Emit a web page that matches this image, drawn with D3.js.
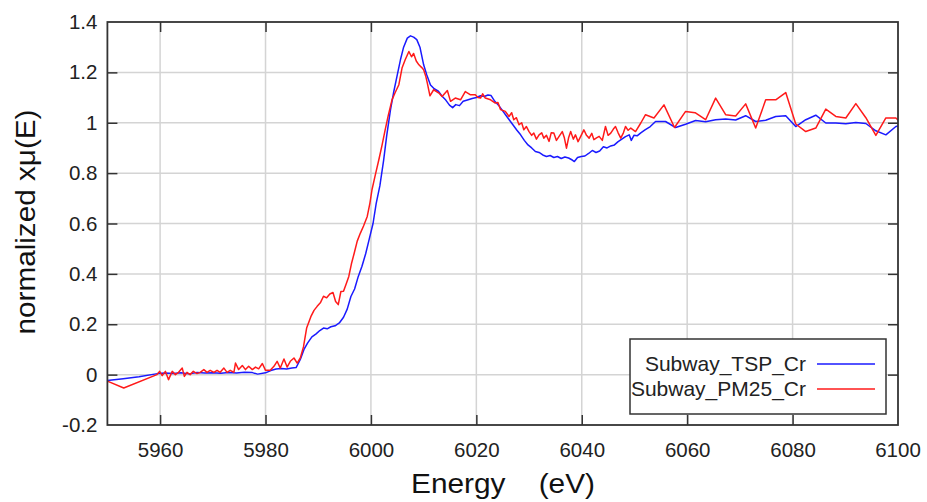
<!DOCTYPE html>
<html>
<head>
<meta charset="utf-8">
<script src="https://cdn.jsdelivr.net/npm/d3@7"></script>
<style>
  body { margin: 0; background: #fff; }
  svg { font-family: "Liberation Sans", Arial, sans-serif; }
</style>
</head>
<body>
<svg id="chart" width="927" height="502"></svg>
<script>
// Subway_TSP_Cr (blue)
var tspEnergy = [5950, 5953, 5956, 5959.5, 5961, 5962.5, 5964, 5965.5, 5967, 5968.5, 5970, 5971.5, 5973, 5974.5, 5976, 5977.5, 5978.5, 5980, 5981, 5982, 5983, 5984, 5985, 5985.8,
  5986.6, 5987.3, 5988, 5988.8, 5989.6, 5990.3, 5991, 5991.7, 5992.4, 5993.2, 5994, 5994.8, 5995.5, 5996.2, 5996.9, 5997.6, 5998.3, 5999, 5999.7, 6000.4, 6001, 6001.7,
  6002.4, 6003, 6003.7, 6004.3, 6005, 6005.6, 6006.2, 6006.9, 6007.5, 6008.1, 6008.7, 6009.3, 6010, 6010.6, 6011.3, 6012, 6012.8, 6013.5, 6014.2, 6014.9, 6015.5, 6016.1,
  6016.8, 6017.5, 6018.3, 6019.2, 6020, 6020.8, 6021.5, 6022.2, 6022.8, 6023.5, 6024.2, 6024.9, 6025.6, 6026.3, 6027, 6027.7, 6028.4, 6029.1, 6029.8, 6030.5, 6031.2,
  6031.9, 6032.6, 6033.3, 6034, 6034.7, 6035.4, 6036.1, 6036.8, 6037.5, 6038.2, 6038.6, 6039.2, 6039.9, 6040.6, 6041.3, 6042, 6042.7, 6043.4, 6044.1, 6044.8, 6045.5,
  6046.2, 6046.9, 6047.6, 6048.3, 6049, 6049.4, 6049.9, 6050.5, 6051.2, 6052, 6053, 6054, 6055.9, 6057.8, 6059.7, 6061.6, 6063.5, 6065.4, 6067.3, 6069.2, 6071.1, 6073,
  6074.9, 6076.8, 6078.7, 6080.6, 6082.5, 6084.4, 6086.3, 6088.2, 6090.1, 6092, 6093.9, 6095.8, 6097.7, 6099.6, 6100.5];
var tspMu = [-0.023, -0.016, -0.008, 0.004, 0.006, 0.004, 0.007, 0.003, 0.008, 0.006, 0.007, 0.005, 0.008, 0.006, 0.009, 0.008, 0.002, 0.007, 0.016, 0.022, 0.024, 0.022, 0.026, 0.028,
  0.06, 0.1, 0.126, 0.15, 0.162, 0.175, 0.185, 0.182, 0.19, 0.194, 0.205, 0.228, 0.26, 0.31, 0.34, 0.39, 0.43, 0.48, 0.54, 0.6, 0.68, 0.75,
  0.85, 0.95, 1.05, 1.12, 1.19, 1.25, 1.3, 1.336, 1.345, 1.34, 1.33, 1.3, 1.23, 1.19, 1.15, 1.135, 1.125, 1.105, 1.09, 1.07, 1.06, 1.072,
  1.068, 1.085, 1.09, 1.096, 1.1, 1.107, 1.104, 1.11, 1.108, 1.085, 1.07, 1.05, 1.03, 1.01, 0.99, 0.97, 0.952, 0.93, 0.912, 0.9, 0.886,
  0.882, 0.872, 0.866, 0.87, 0.862, 0.866, 0.858, 0.864, 0.86, 0.852, 0.846, 0.862, 0.866, 0.868, 0.878, 0.89, 0.882, 0.888, 0.905, 0.9, 0.908,
  0.912, 0.925, 0.935, 0.945, 0.952, 0.93, 0.95, 0.948, 0.96, 0.972, 0.985, 1.005, 1.005, 0.981, 0.994, 1.009, 1.004, 1.012, 1.015, 1.011, 1.028, 1.005,
  1.01, 1.025, 1.028, 0.985, 1.012, 1.03, 0.999, 0.999, 0.996, 1.001, 0.997, 0.968, 0.952, 0.985, 0.99];

// Subway_PM25_Cr (red)
var pm25Energy = [5950, 5953.1, 5959.4, 5959.9, 5960.4, 5961, 5961.6, 5962.3, 5962.9, 5963.5, 5964.2, 5964.6, 5965.1, 5965.7, 5966.3, 5967, 5967.6, 5968.3, 5968.9, 5969.5,
  5970.2, 5970.8, 5971.4, 5972.1, 5972.7, 5973.3, 5974, 5974.3, 5974.9, 5975.6, 5976.2, 5976.8, 5977.5, 5978.1, 5978.7, 5979.4, 5980, 5980.9, 5981.6, 5982.2,
  5982.8, 5983.5, 5984.1, 5984.7, 5985.4, 5986, 5986.6, 5987.2, 5987.8, 5988.6, 5989.2, 5989.8, 5990.4, 5991, 5991.6, 5992.2, 5992.8, 5993.3, 5993.8, 5994.3,
  5994.8, 5995.3, 5995.8, 5996.3, 5996.8, 5997.4, 5998, 5998.6, 5999.3, 5999.8, 6000.2, 6000.8, 6001.5, 6002.1, 6002.7, 6003.3, 6004, 6004.6, 6005.3, 6005.9,
  6006.5, 6007.2, 6007.7, 6008.1, 6008.6, 6009.1, 6009.6, 6010, 6010.4, 6010.7, 6011.2, 6011.9, 6012.9, 6013.5, 6014.5, 6015.1, 6016, 6017, 6017.9, 6018.9,
  6019.8, 6020.3, 6020.8, 6021.2, 6021.7, 6022.7, 6023.6, 6024.1, 6024.6, 6025.5, 6026.2, 6026.7, 6027.1, 6027.6, 6028.1, 6028.6, 6029, 6029.5, 6030, 6030.5,
  6030.9, 6031.4, 6031.9, 6032.4, 6032.8, 6033.3, 6033.8, 6034.2, 6034.7, 6035.2, 6035.7, 6036.3, 6036.7, 6037.1, 6037.5, 6037.9, 6038.4, 6038.8, 6039.3, 6039.8,
  6040.4, 6040.9, 6041.4, 6041.9, 6042.3, 6042.8, 6043.3, 6043.9, 6044.5, 6045, 6045.5, 6046, 6046.4, 6046.9, 6047.4, 6047.9, 6048.3, 6048.8, 6049.3, 6050.2,
  6051.2, 6052.1, 6053.7, 6055.6, 6057.6, 6059.7, 6061.5, 6063.5, 6065.4, 6067.3, 6069.2, 6071.1, 6073, 6074.9, 6076.8, 6078.7, 6080.6, 6082.5, 6084.4, 6086.3,
  6088.2, 6090.1, 6092, 6093.9, 6095.8, 6097.7, 6099.6, 6100.3];
var pm25Mu = [-0.026, -0.053, 0.0, 0.013, -0.004, 0.013, -0.02, 0.013, 0.0, 0.009, 0.026, -0.007, 0.009, 0.0, 0.013, 0.004, 0.009, 0.02, 0.009, 0.017,
  0.009, 0.017, 0.009, 0.026, 0.009, 0.017, 0.009, 0.046, 0.02, 0.036, 0.02, 0.033, 0.02, 0.03, 0.023, 0.044, 0.017, 0.017, 0.033, 0.053,
  0.026, 0.062, 0.03, 0.053, 0.066, 0.046, 0.066, 0.11, 0.185, 0.23, 0.255, 0.271, 0.285, 0.311, 0.305, 0.32, 0.326, 0.29, 0.278, 0.33,
  0.331, 0.36, 0.39, 0.44, 0.48, 0.53, 0.562, 0.59, 0.628, 0.68, 0.734, 0.79, 0.853, 0.91, 0.972, 1.03, 1.091, 1.12, 1.151, 1.217,
  1.25, 1.283, 1.262, 1.275, 1.245, 1.23, 1.22, 1.21, 1.185, 1.157, 1.107, 1.131, 1.118, 1.104, 1.128, 1.085, 1.098, 1.091, 1.124, 1.111,
  1.111, 1.1, 1.098, 1.115, 1.098, 1.091, 1.078, 1.08, 1.052, 1.045, 1.025, 1.04, 1.012, 1.02, 0.992, 1.0, 0.972, 0.985, 0.965, 0.95,
  0.959, 0.935, 0.952, 0.96, 0.939, 0.95, 0.926, 0.96, 0.959, 0.93, 0.946, 0.965, 0.94, 0.899, 0.94, 0.965, 0.935, 0.952, 0.925, 0.946,
  0.972, 0.95, 0.939, 0.958, 0.933, 0.94, 0.946, 0.93, 0.985, 0.95, 0.959, 0.975, 0.985, 0.96, 0.939, 0.96, 0.985, 0.97, 0.979, 0.965,
  0.999, 1.032, 1.019, 1.071, 0.981, 1.045, 1.04, 1.012, 1.098, 1.032, 1.027, 1.075, 0.979, 1.091, 1.091, 1.12, 0.995, 0.965, 0.979, 1.054,
  1.025, 1.019, 1.076, 1.02, 0.95, 1.019, 1.019, 1.005];

var xTicks = [5960, 5980, 6000, 6020, 6040, 6060, 6080, 6100];
var yTicks = [-0.2, 0, 0.2, 0.4, 0.6, 0.8, 1, 1.2, 1.4];
var seriesNames = ["Subway_TSP_Cr", "Subway_PM25_Cr"];
var seriesColors = ["#1a1aff", "#ff1a1a"];

var margin = { top: 22, right: 29, bottom: 77, left: 107.4 },
  width = 927 - margin.left - margin.right,
  height = 502 - margin.top - margin.bottom;

var svg = d3.select("#chart");
var g = svg.append("g")
  .attr("transform", "translate(" + margin.left + "," + margin.top + ")");

var x = d3.scaleLinear().domain([5950, 6100]).range([0, width]);
var y = d3.scaleLinear().domain([-0.2, 1.4]).range([height, 0]);

// grid
g.append("g").selectAll("line").data(xTicks.filter(d => d < 6100)).join("line")
  .attr("x1", d => x(d)).attr("x2", d => x(d))
  .attr("y1", 0).attr("y2", height)
  .attr("stroke", "#d4d4d4").attr("stroke-width", 1.5);
g.append("g").selectAll("line").data(yTicks.slice(1, -1)).join("line")
  .attr("x1", 0).attr("x2", width)
  .attr("y1", d => y(d)).attr("y2", d => y(d))
  .attr("stroke", "#d4d4d4").attr("stroke-width", 1.5);

// data lines
g.append("clipPath").attr("id", "clip")
  .append("rect").attr("width", width).attr("height", height);

var line = d3.line().x(d => x(d[0])).y(d => y(d[1]));
var series = [
  d3.zip(tspEnergy, tspMu),
  d3.zip(pm25Energy, pm25Mu)
];
// red drawn last, on top
[0, 1].forEach(function (i) {
  g.append("path")
    .datum(series[i])
    .attr("clip-path", "url(#clip)")
    .attr("fill", "none")
    .attr("stroke", seriesColors[i])
    .attr("stroke-width", 1.5)
    .attr("stroke-linejoin", "round")
    .attr("d", line);
});

// axes with inward ticks
var fmt = d => String(+d.toFixed(1));
function styleAxis(sel) {
  sel.select(".domain").remove();
  sel.selectAll(".tick line").attr("stroke", "#333").attr("stroke-width", 1.5);
  sel.selectAll("text").attr("fill", "#222").style("font-size", "20.5px");
}
g.append("g")
  .call(d3.axisLeft(y).tickValues(yTicks.slice(1, -1)).tickSize(-10).tickPadding(10).tickFormat(fmt))
  .call(styleAxis);
g.append("g")
  .attr("transform", "translate(" + width + ",0)")
  .call(d3.axisRight(y).tickValues(yTicks.slice(1, -1)).tickSize(-10).tickFormat(""))
  .call(styleAxis);
g.append("g")
  .attr("transform", "translate(0," + height + ")")
  .call(d3.axisBottom(x).tickValues(xTicks.slice(0, -1)).tickSize(-10).tickPadding(17).tickFormat(d3.format("d")))
  .call(styleAxis);
g.append("g")
  .call(d3.axisTop(x).tickValues(xTicks.slice(0, -1)).tickSize(-10).tickFormat(""))
  .call(styleAxis);

// end labels not covered by tick marks
g.append("text").attr("x", -10).attr("y", y(1.4)).attr("dy", "0.32em")
  .attr("text-anchor", "end").attr("fill", "#222").style("font-size", "20.5px").text(fmt(1.4));
g.append("text").attr("x", -10).attr("y", y(-0.2)).attr("dy", "0.32em")
  .attr("text-anchor", "end").attr("fill", "#222").style("font-size", "20.5px").text(fmt(-0.2));
g.append("text").attr("x", x(6100)).attr("y", height + 17).attr("dy", "0.71em")
  .attr("text-anchor", "middle").attr("fill", "#222").style("font-size", "20.5px").text("6100");

// frame
g.append("rect").attr("width", width).attr("height", height)
  .attr("fill", "none").attr("stroke", "#333").attr("stroke-width", 1.8);

// axis titles
svg.append("text")
  .attr("x", 503).attr("y", 493)
  .attr("text-anchor", "middle")
  .attr("textLength", 184).attr("lengthAdjust", "spacingAndGlyphs")
  .style("font-size", "27px").style("white-space", "pre")
  .attr("fill", "#111")
  .text("Energy    (eV)");
svg.append("text")
  .attr("transform", "translate(35,222) rotate(-90)")
  .attr("text-anchor", "middle")
  .attr("textLength", 225).attr("lengthAdjust", "spacingAndGlyphs")
  .style("font-size", "27px")
  .attr("fill", "#111")
  .text("normalized xμ(E)");

// legend
var legend = svg.append("g");
legend.append("rect")
  .attr("x", 630).attr("y", 339).attr("width", 256).attr("height", 75)
  .attr("fill", "#fff").attr("stroke", "#333").attr("stroke-width", 1.5);
seriesNames.forEach(function (name, i) {
  var ly = 364 + i * 25;
  legend.append("line")
    .attr("x1", 817).attr("x2", 875).attr("y1", ly).attr("y2", ly)
    .attr("stroke", seriesColors[i]).attr("stroke-width", 1.5);
  legend.append("text")
    .attr("x", 806).attr("y", ly).attr("dy", "0.35em")
    .attr("text-anchor", "end")
    .style("font-size", "21px")
    .attr("fill", "#222")
    .text(name);
});
</script>
</body>
</html>
